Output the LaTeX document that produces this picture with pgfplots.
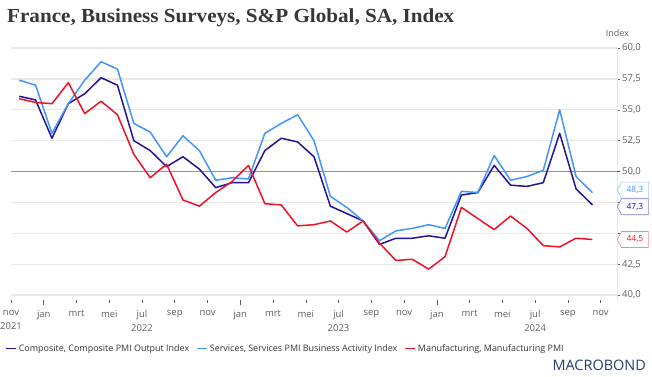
\documentclass[border=0pt]{standalone}
\usepackage{pgfplots}
\pgfplotsset{compat=1.18}
\usepackage{fontspec}
\setmainfont{Open Sans}
\newfontfamily\titlefont{Liberation Serif}[FakeStretch=1.06]
\usetikzlibrary{shapes.symbols}
\definecolor{comp}{RGB}{38,18,150}
\definecolor{serv}{RGB}{66,148,255}
\definecolor{manu}{RGB}{240,18,36}
\definecolor{gridc}{RGB}{232,232,232}
\definecolor{midgray}{RGB}{150,150,150}
\definecolor{tickc}{RGB}{95,95,95}
\definecolor{titlec}{RGB}{55,55,55}
\definecolor{logoc}{RGB}{38,62,105}

\pgfplotstableread{
x y
0.5 56.1
1.5 55.8
2.5 52.7
3.5 55.5
4.5 56.3
5.5 57.6
6.5 57.0
7.5 52.5
8.5 51.7
9.5 50.4
10.5 51.2
11.5 50.2
12.5 48.7
13.5 49.1
14.5 49.1
15.5 51.7
16.5 52.7
17.5 52.4
18.5 51.2
19.5 47.2
20.5 46.6
21.5 46.0
22.5 44.1
23.5 44.6
24.5 44.6
25.5 44.8
26.5 44.6
27.5 48.1
28.5 48.3
29.5 50.5
30.5 48.9
31.5 48.8
32.5 49.1
33.5 53.1
34.5 48.6
35.5 47.3
}\composite

\pgfplotstableread{
x y
0.5 57.4
1.5 57.0
2.5 53.1
3.5 55.5
4.5 57.4
5.5 58.9
6.5 58.3
7.5 53.9
8.5 53.2
9.5 51.2
10.5 52.9
11.5 51.7
12.5 49.3
13.5 49.5
14.5 49.4
15.5 53.1
16.5 53.9
17.5 54.6
18.5 52.5
19.5 48.0
20.5 47.1
21.5 46.0
22.5 44.4
23.5 45.2
24.5 45.4
25.5 45.7
26.5 45.4
27.5 48.4
28.5 48.3
29.5 51.3
30.5 49.3
31.5 49.6
32.5 50.1
33.5 55.0
34.5 49.6
35.5 48.3
}\services

\pgfplotstableread{
x y
0.5 55.9
1.5 55.6
2.5 55.5
3.5 57.2
4.5 54.7
5.5 55.7
6.5 54.6
7.5 51.4
8.5 49.5
9.5 50.6
10.5 47.7
11.5 47.2
12.5 48.3
13.5 49.2
14.5 50.5
15.5 47.4
16.5 47.3
17.5 45.6
18.5 45.7
19.5 46.0
20.5 45.1
21.5 46.0
22.5 44.2
23.5 42.8
24.5 42.9
25.5 42.1
26.5 43.1
27.5 47.1
28.5 46.2
29.5 45.3
30.5 46.4
31.5 45.4
32.5 44.0
33.5 43.9
34.5 44.6
35.5 44.5
}\manufacturing

\begin{document}
\begin{tikzpicture}
\path[use as bounding box] (0,0) rectangle (652bp,377bp);
\node[anchor=base west, inner sep=0, text=titlec] at (7bp,354.5bp)
  {\titlefont\fontsize{20}{23}\selectfont\bfseries France, Business Surveys, S\&P Global, SA, Index};
\node[anchor=base east, inner sep=0, text=tickc, font=\fontsize{9}{11}\selectfont] at (629bp,340bp) {Index};
\node[anchor=base east, inner sep=0, text=logoc, font=\fontsize{14.5}{16}\selectfont] at (646bp,7bp) {MACROBOND};
\begin{axis}[
  at={(11bp,77bp)}, anchor=south west, scale only axis,
  width=606bp, height=251.9bp,
  xmin=0, xmax=37, ymin=39.6, ymax=60,
  clip=false,
  axis x line*=bottom, axis y line*=right,
  x axis line style={draw=none},
  y axis line style={draw=gridc, line width=0.8bp},
  tick align=outside, major tick length=3bp,
  xtick={0,2,...,36},
  xticklabels={{nov\\2021},jan,mrt,mei,{jul\\2022},sep,nov,jan,mrt,mei,{jul\\2023},sep,nov,jan,mrt,mei,{jul\\2024},sep,nov},
  xticklabel style={align=center, text=tickc, font=\fontsize{9.5}{14}\selectfont, inner sep=1bp, yshift=-6.5bp},
  extra x ticks={2,14,26}, extra x tick labels={},
  extra x tick style={major tick length=5bp},
  xtick style={draw=tickc, line width=0.6bp},
  ytick={40,42.5,45,47.5,52.5,55,57.5,60},
  yticklabels={{40,0},{42,5},{},{},{52,5},{55,0},{57,5},{60,0}},
  extra y ticks={50},
  extra y tick style={grid style={draw=midgray, line width=0.9bp}},
  ymajorgrids, grid style={draw=gridc, line width=1.2bp},
  ytick style={draw=tickc, line width=0.6bp},
  yticklabel style={text=tickc, font=\fontsize{9.5}{11}\selectfont, inner sep=2bp,
    /pgf/number format/.cd, fixed, fixed zerofill, precision=1, use comma, assume math mode=true},
  legend columns=3,
  legend style={at={(axis description cs:0,0)}, anchor=north west, xshift=-9bp, yshift=-40bp,
    draw=none, fill=none, font=\fontsize{9}{11}\selectfont, text=titlec,
    /tikz/every even column/.append style={column sep=5bp}},
  legend image code/.code={\draw[#1, line width=1.6bp] (0bp,0bp) -- (10bp,0bp);},
  every axis plot/.append style={line width=1.5bp, line join=round},
]
\addplot[comp] table[x=x,y=y] {\composite};
\addlegendentry{Composite, Composite PMI Output Index}
\addplot[serv] table[x=x,y=y] {\services};
\addlegendentry{Services, Services PMI Business Activity Index}
\addplot[manu] table[x=x,y=y] {\manufacturing};
\addlegendentry{Manufacturing, Manufacturing PMI}

\tikzset{vlab/.style={signal, signal to=west, signal pointer angle=125, fill=white,
  font=\fontsize{8.5}{10}\selectfont, minimum height=16bp, minimum width=31bp,
  inner sep=1.5bp, anchor=west, line width=0.6bp}}
\node[vlab, draw=serv!55, text=serv] at (axis cs:37,48.5) {48,3};
\node[vlab, draw=comp!55, text=comp] at (axis cs:37,47.15) {47,3};
\node[vlab, draw=manu!50, text=manu] at (axis cs:37,44.5) {44,5};
\end{axis}
\end{tikzpicture}
\end{document}
